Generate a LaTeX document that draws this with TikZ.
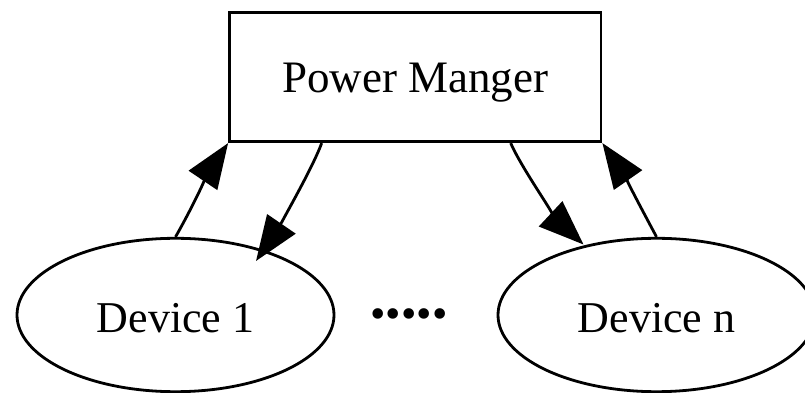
\documentclass[tikz,border=0pt]{standalone}
\usepackage{fontspec}
\setmainfont{Liberation Serif}
\usetikzlibrary{arrows.meta,shapes.geometric,calc}
\begin{document}
\begin{tikzpicture}[x=1pt,y=1pt,
  every node/.style={font=\fontsize{44}{52}\selectfont},
  box/.style={draw, line width=2.8pt, rectangle, minimum width=371.5pt,
    minimum height=129pt, inner sep=0pt, text height=31pt, text depth=0pt,
    font=\fontsize{45}{54}\selectfont},
  dev/.style={draw, line width=2.8pt, ellipse, minimum width=317pt,
    minimum height=153.4pt, inner sep=0pt, text height=35.4pt, text depth=0pt},
  link/.style={line width=2.8pt, -{Triangle[length=45pt,width=34pt]}}
]
\useasboundingbox (0,0) rectangle (805,393);

% manager and devices
\node[box] (pm) at (415.25,315.8) {Power Manger};
\node[dev] (d1) at (175.5,78) {Device 1};
\node[dev] (dn) at (656.5,78) {Device n};
\node[inner sep=0pt] (dots) at (409,74.5) {•••••};

% links between the manager and the devices
\draw[link] (d1.north) .. controls +(60:30) and +(236:30) .. (pm.south west);
\draw[link] ($(pm.south west)!0.25!(pm.south east)$)
  .. controls +(250:30) and +(55.6:30) .. ($(d1.center)+(80.5,54)$);
\draw[link] ($(pm.south west)!0.755!(pm.south east)$)
  .. controls +(-66.5:30) and +(137:30) .. ($(dn.center)+(-73,70.5)$);
\draw[link] (dn.north) .. controls +(118:30) and +(-55.2:30) .. (pm.south east);
\end{tikzpicture}
\end{document}
